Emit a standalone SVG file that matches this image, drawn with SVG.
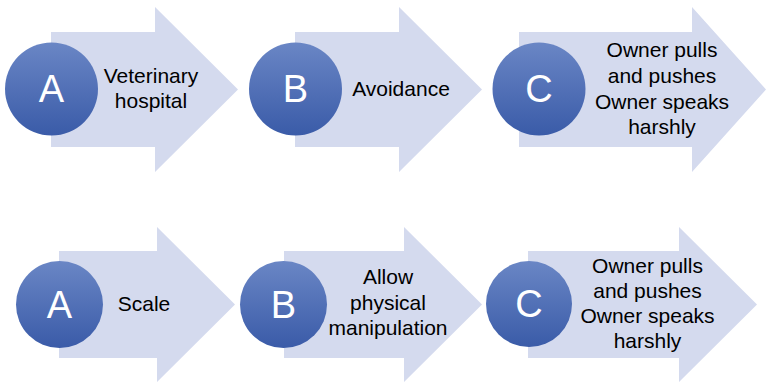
<svg xmlns="http://www.w3.org/2000/svg" width="766" height="384" viewBox="0 0 766 384">
<defs>
<linearGradient id="cg" x1="0" y1="0" x2="0" y2="1">
<stop offset="0" stop-color="#6a86c5"/>
<stop offset="1" stop-color="#3a5ba8"/>
</linearGradient>
<style>
.arr{fill:#d4daee}
.circ{fill:url(#cg)}
.let{font-family:"Liberation Sans",Arial,sans-serif;font-size:38px;fill:#fff;text-anchor:middle}
.lbl{font-family:"Liberation Sans",Arial,sans-serif;font-size:21px;fill:#000;text-anchor:middle}
</style>
</defs>
<rect width="766" height="384" fill="#fff"/>
<g id="connectors"></g>
<g id="a1">
<polygon class="arr" points="51,32 155,32 155,7 238,89.5 155,172 155,147 51,147"/>
<circle class="circ" cx="51.5" cy="89" r="46.5"/>
<text class="let" x="51.5" y="102">A</text>
<text class="lbl" x="151" y="83">Veterinary</text>
<text class="lbl" x="151" y="108">hospital</text>
</g>
<g id="b1">
<polygon class="arr" points="295,32 399,32 399,7 482,89.5 399,172 399,147 295,147"/>
<circle class="circ" cx="295.5" cy="89" r="46.5"/>
<text class="let" x="295.5" y="102">B</text>
<text class="lbl" x="401" y="96">Avoidance</text>
</g>
<g id="c1">
<polygon class="arr" points="519,32 692,32 692,7 766,89.5 692,172 692,147 519,147"/>
<circle class="circ" cx="539" cy="89" r="46.5"/>
<text class="let" x="539" y="102">C</text>
<text class="lbl" x="662" y="57">Owner pulls</text>
<text class="lbl" x="662" y="83">and pushes</text>
<text class="lbl" x="662" y="109">Owner speaks</text>
<text class="lbl" x="662" y="134">harshly</text>
</g>
<g id="a2">
<polygon class="arr" points="59,251 157,251 157,227 235,304.5 157,382 157,358 59,358"/>
<circle class="circ" cx="59.5" cy="304.5" r="43.5"/>
<text class="let" x="59.5" y="317.5">A</text>
<text class="lbl" x="144" y="311">Scale</text>
</g>
<g id="b2">
<polygon class="arr" points="284,251 404,251 404,227 482,304.5 404,382 404,358 284,358"/>
<circle class="circ" cx="283.5" cy="304.5" r="43.5"/>
<text class="let" x="283.5" y="317.5">B</text>
<text class="lbl" x="388" y="284">Allow</text>
<text class="lbl" x="388" y="310">physical</text>
<text class="lbl" x="388" y="335">manipulation</text>
</g>
<g id="c2">
<polygon class="arr" points="528,251 679,251 679,227 757,304.5 679,382 679,358 528,358"/>
<circle class="circ" cx="529" cy="304" r="43"/>
<text class="let" x="529" y="317">C</text>
<text class="lbl" x="647.5" y="273">Owner pulls</text>
<text class="lbl" x="647.5" y="298">and pushes</text>
<text class="lbl" x="647.5" y="323">Owner speaks</text>
<text class="lbl" x="647.5" y="348">harshly</text>
</g>
</svg>
